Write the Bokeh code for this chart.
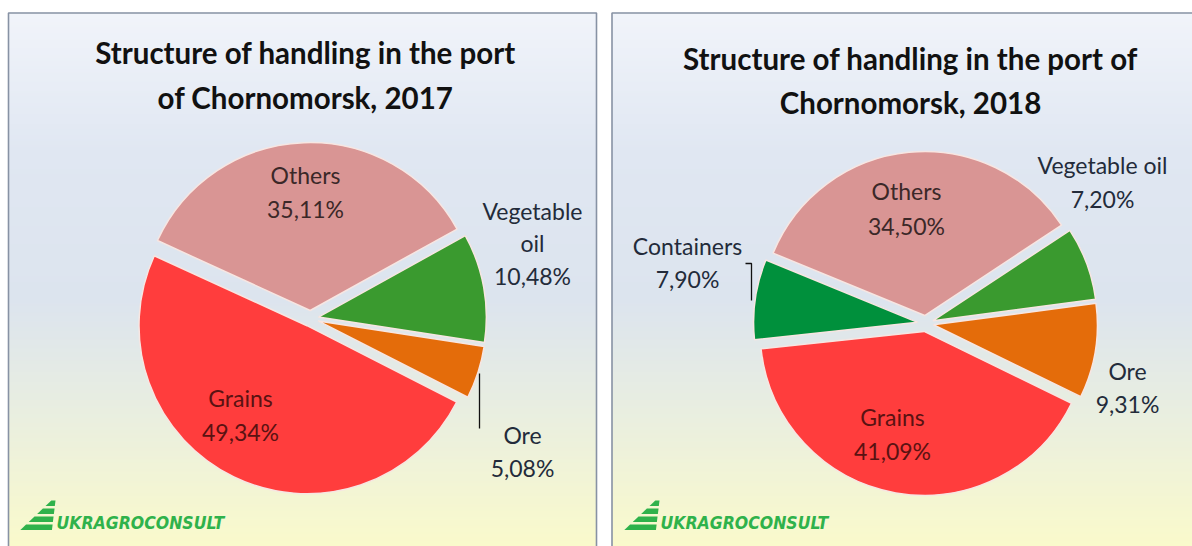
import numpy as np
from bokeh.plotting import figure
from bokeh.models import ColumnDataSource
from bokeh.core.properties import value
from bokeh.embed import file_html
from bokeh.resources import INLINE

W, H = 1192, 546

# ---------------- data ----------------
cats_2017 = ["Ore", "Vegetable oil", "Others", "Grains"]
vals_2017 = [5.08, 10.48, 35.11, 49.34]
cats_2018 = ["Ore", "Vegetable oil", "Others", "Containers", "Grains"]
vals_2018 = [9.31, 7.20, 34.50, 7.90, 41.09]
title_2017 = ["Structure of handling in the port", "of Chornomorsk, 2017"]
title_2018 = ["Structure of handling in the port of", "Chornomorsk, 2018"]
brand = "UKRAGROCONSULT"

# ---------------- styles ----------------
colors = {"Ore": "#e46c0a", "Vegetable oil": "#3a9a2f", "Others": "#d99594",
          "Grains": "#ff3d3d", "Containers": "#00903c"}
LABEL_FONT = "Lato"
TITLE_FONT = "Lato"


def Y(s):
    return H - s


def hex2rgb(h):
    h = h.lstrip("#")
    return [int(h[i:i + 2], 16) for i in (0, 2, 4)]


def grad_color(ys, stops):
    pos = [s[0] for s in stops]
    cols = np.array([hex2rgb(s[1]) for s in stops], dtype=float)
    out = []
    for y in ys:
        c = [np.interp(y, pos, cols[:, k]) for k in range(3)]
        out.append("#%02x%02x%02x" % tuple(int(round(v)) for v in c))
    return out


p = figure(width=W, height=H, x_range=(0, W), y_range=(0, H),
           output_backend="svg", toolbar_location=None, min_border=0)
p.axis.visible = False
p.grid.visible = False
p.outline_line_color = None
p.background_fill_color = "white"
p.border_fill_color = "white"

# panel backgrounds (gradient strips)
stops = [(12, "#f1f4fa"), (150, "#e0e7f2"), (300, "#dce4ee"), (420, "#eaefdf"), (546, "#fafacb")]
step = 3
ys = np.arange(12, H + step, step)
gcols = grad_color(ys + step / 2, stops)
for (x0, x1) in [(8, 596), (611.5, 1200)]:
    p.quad(left=x0, right=x1, top=[Y(v) for v in ys], bottom=[Y(v + step + 0.6) for v in ys],
           fill_color=gcols, line_color=None)
    p.line(x=[x0, x0, x1, x1], y=[Y(H + 2), Y(12.5), Y(12.5), Y(H + 2)],
           line_color="#8792a4", line_width=1.6)


def pie(cats, vals, cx, cy, R, d, start_deg):
    total = float(sum(vals))
    cum = np.concatenate([[0.0], np.cumsum(vals)]) / total * 2 * np.pi
    start = np.radians(start_deg) + cum[:-1]
    end = np.radians(start_deg) + cum[1:]
    mid = (start + end) / 2
    src = ColumnDataSource(dict(
        x=cx + d * np.cos(mid), y=Y(cy) + d * np.sin(mid),
        start=start, end=end, color=[colors[c] for c in cats]))
    p.wedge(x="x", y="y", radius=R, radius_units="screen", start_angle="start", end_angle="end",
            fill_color="color", line_color="#f7e6e2", line_width=1.5, source=src)


def fmt(v):
    return ("%.2f" % v).replace(".", ",") + "%"


def label(lines, x, y0, dy, color, size="23px"):
    p.text(x=[x] * len(lines), y=[Y(y0 + i * dy) for i in range(len(lines))], text=lines,
           text_font=value(LABEL_FONT), text_font_size=size, text_color=color,
           text_align="center", text_baseline="middle")


def title(lines, x, y0, dy):
    p.text(x=[x] * len(lines), y=[Y(y0 + i * dy) for i in range(len(lines))], text=lines,
           text_font=value(TITLE_FONT), text_font_size="29.5px", text_font_style="bold",
           text_color="#111111", text_align="center", text_baseline="middle")


# ---- 2017 ----
title(title_2017, 305, 52, 45)
pie(cats_2017, vals_2017, 310, 318, 168, 8, -27)
v17 = dict(zip(cats_2017, vals_2017))
label(["Others", fmt(v17["Others"])], 305, 174, 34, "#3b2828")
label(["Vegetable", "oil", fmt(v17["Vegetable oil"])], 532, 210, 32.5, "#232b3a")
label(["Grains", fmt(v17["Grains"])], 240, 397, 34, "#5a1212")
label(["Ore", fmt(v17["Ore"])], 522, 434, 33, "#232b3a")
p.line(x=[479, 479], y=[Y(373), Y(428)], line_color="#111111", line_width=1.3)

# ---- 2018 ----
title(title_2018, 910, 58, 44)
pie(cats_2018, vals_2018, 925, 323, 164, 8, -26)
v18 = dict(zip(cats_2018, vals_2018))
label(["Others", fmt(v18["Others"])], 906, 190, 35, "#3b2828")
label(["Vegetable oil", fmt(v18["Vegetable oil"])], 1102, 164, 34, "#232b3a")
label(["Containers", fmt(v18["Containers"])], 687, 245, 33, "#232b3a")
label(["Ore", fmt(v18["Ore"])], 1127, 370, 33, "#232b3a")
label(["Grains", fmt(v18["Grains"])], 892, 416, 34, "#5a1212")
p.line(x=[745, 751, 751], y=[Y(263), Y(263), Y(300)], line_color="#111111", line_width=1.3)

# ---- logos ----
for ox in (0, 604):
    # stepped triangle
    for k in range(4):
        top = 500 + k * 8
        bot = top + 5.5
        xr_top = 55 - (top - 500) * 0.12 + ox
        xr_bot = 55 - (bot - 500) * 0.12 + ox
        xl_top = 55 - (top - 496) * 1.05 + ox
        xl_bot = 55 - (bot - 496) * 1.05 + ox
        p.patch(x=[xl_top, xr_top, xr_bot, xl_bot], y=[Y(top), Y(top), Y(bot), Y(bot)],
                fill_color="#2fb24b", line_color=None)
    p.text(x=[56 + ox], y=[Y(522)], text=[brand], text_font=value("DejaVu Sans Condensed"),
           text_font_size="17.5px", text_font_style="bold italic", text_color="#2fb24b",
           text_align="left", text_baseline="middle")

open("out.html", "w").write(file_html(p, INLINE))
